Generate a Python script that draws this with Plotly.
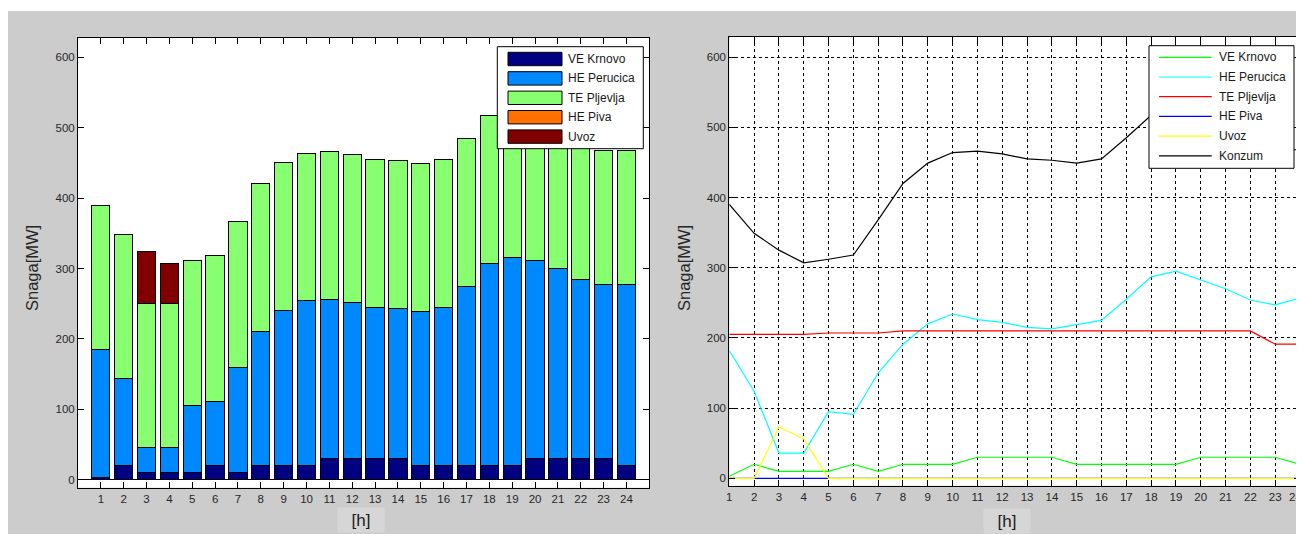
import plotly.graph_objects as go

# ---------------- data ----------------
hours = list(range(1, 25))
ve_krnovo = [3, 20, 10, 10, 10, 20, 10, 20, 20, 20, 30, 30, 30, 30, 20, 20, 20, 20, 20, 30, 30, 30, 30, 20]
he_perucica = [182, 124, 36, 36, 95, 91, 150, 191, 220, 234, 226, 222, 215, 213, 219, 225, 255, 287, 295, 282, 270, 254, 247, 257]
te_pljevlja = [205, 205, 205, 205, 207, 207, 207, 210, 210, 210, 210, 210, 210, 210, 210, 210, 210, 210, 210, 210, 210, 210, 191, 191]
he_piva = [0, 0, 0, 0, 0, 0, 0, 0, 0, 0, 0, 0, 0, 0, 0, 0, 0, 0, 0, 0, 0, 0, 0, 0]
uvoz = [0, 0, 73, 56, 0, 0, 0, 0, 0, 0, 0, 0, 0, 0, 0, 0, 0, 0, 0, 0, 0, 0, 0, 0]
konzum = [390, 349, 325, 307, 312, 318, 368, 420, 449, 464, 466, 462, 455, 453, 449, 455, 485, 517, 525, 522, 510, 494, 468, 468]
y_ticks = [0, 100, 200, 300, 400, 500, 600]

series_names = ["VE Krnovo", "HE Perucica", "TE Pljevlja", "HE Piva", "Uvoz"]
series_values = [ve_krnovo, he_perucica, te_pljevlja, he_piva, uvoz]
bar_colors = ["#000080", "#0088FF", "#88FF70", "#FF7000", "#800000"]
line_colors = ["#00FF00", "#00FFFF", "#FF0000", "#0000FF", "#FFFF00", "#000000"]

# the page puts the figure 8 px from the top-left corner
OFF = 8
W, H = 1304 - OFF, 534 - OFF
def px(x):
    return (x - OFF) / W
def py(y):
    return 1 - (y - OFF) / H

fig = go.Figure()

for name, vals, col in zip(series_names, series_values, bar_colors):
    fig.add_trace(go.Bar(x=hours, y=vals, name=name, marker=dict(color=col, line=dict(color="black", width=1)),
                         xaxis="x", yaxis="y", showlegend=False))

line_names = series_names + ["Konzum"]
line_values = series_values + [konzum]
for name, vals, col in zip(line_names, line_values, line_colors):
    fig.add_trace(go.Scatter(x=hours, y=vals, name=name, mode="lines", line=dict(color=col, width=1.2),
                             xaxis="x2", yaxis="y2", showlegend=False))

tickfont = dict(family="Liberation Sans, Arial, sans-serif", size=11.5, color="#262626")
common_axis = dict(showline=True, linecolor="black", linewidth=1, mirror="ticks", ticks="inside",
                   ticklen=6, tickcolor="black", tickfont=tickfont, automargin=False)

fig.update_layout(
    width=W, height=H,
    margin=dict(l=0, r=0, t=0, b=0),
    paper_bgcolor="#cccccc",
    plot_bgcolor="white",
    barmode="stack", bargap=0.2,
    xaxis=dict(domain=[px(78), px(649.3)], range=[0, 25], tickvals=hours, showgrid=False, zeroline=False, **common_axis),
    yaxis=dict(domain=[py(487.7), py(37.7)], range=[-11.4, 628], tickvals=y_ticks, showgrid=False,
               zeroline=True, zerolinecolor="black", zerolinewidth=1, **common_axis),
    xaxis2=dict(domain=[px(729.3), px(1300)], range=[1, 24], tickvals=hours, anchor="y2",
                showgrid=True, gridcolor="black", gridwidth=1, griddash="3px,3px", zeroline=False, **common_axis),
    yaxis2=dict(domain=[py(485.7), py(36.7)], range=[-10.5, 629], tickvals=y_ticks, anchor="x2",
                showgrid=True, gridcolor="black", gridwidth=1, griddash="3px,3px", zeroline=False, **common_axis),
)

shapes = []
# white strip at the top of the picture
shapes.append(dict(type="rect", xref="paper", yref="paper", x0=-0.01, x1=1.01, y0=py(11), y1=1.01,
                   fillcolor="white", line=dict(width=0), layer="below"))

annotations = []
legfont = dict(family="Liberation Sans, Arial, sans-serif", size=12, color="#1a1a1a")

# left legend (bars)
shapes.append(dict(type="rect", xref="paper", yref="paper", x0=px(497.3), x1=px(643.3), y0=py(148.7), y1=py(46.7),
                   fillcolor="white", line=dict(color="black", width=1), layer="above"))
for i, (name, col) in enumerate(zip(series_names, bar_colors)):
    yc = 59 + 19.4 * i
    shapes.append(dict(type="rect", xref="paper", yref="paper", x0=px(508), x1=px(562), y0=py(yc + 6.7), y1=py(yc - 6.7),
                       fillcolor=col, line=dict(color="black", width=1), layer="above"))
    annotations.append(dict(xref="paper", yref="paper", x=px(566), y=py(yc), text=name, showarrow=False,
                            xanchor="left", yanchor="middle", font=legfont))

# right legend (lines)
shapes.append(dict(type="rect", xref="paper", yref="paper", x0=px(1149), x1=px(1294), y0=py(168.3), y1=py(45.7),
                   fillcolor="white", line=dict(color="black", width=1), layer="above"))
for i, (name, col) in enumerate(zip(line_names, line_colors)):
    yc = 57.3 + 19.7 * i
    shapes.append(dict(type="line", xref="paper", yref="paper", x0=px(1159), x1=px(1211.7), y0=py(yc), y1=py(yc),
                       line=dict(color=col, width=1.2), layer="above"))
    annotations.append(dict(xref="paper", yref="paper", x=px(1217), y=py(yc), text=name, showarrow=False,
                            xanchor="left", yanchor="middle", font=legfont))

# last hour label of the right chart (plotly hides it at the picture edge)
annotations.append(dict(xref="x2", yref="paper", x=hours[-1], y=py(497), text=str(hours[-1]), showarrow=False,
                        xanchor="right", yanchor="middle", xshift=4, font=tickfont))

titlefont = dict(family="Liberation Sans, Arial, sans-serif", size=16.5, color="#262626")
hfont = dict(family="Liberation Sans, Arial, sans-serif", size=17, color="#1a1a1a")
annotations.append(dict(xref="paper", yref="paper", x=px(32), y=py(268), text="Snaga[MW]", textangle=-90,
                        showarrow=False, xanchor="center", yanchor="middle", font=titlefont))
annotations.append(dict(xref="paper", yref="paper", x=px(684), y=py(268), text="Snaga[MW]", textangle=-90,
                        showarrow=False, xanchor="center", yanchor="middle", font=titlefont))
annotations.append(dict(xref="paper", yref="paper", x=px(361), y=py(520), text="[h]", showarrow=False,
                        xanchor="center", yanchor="middle", font=hfont, bgcolor="#d6d6d6", borderpad=2,
                        width=42, height=20))
annotations.append(dict(xref="paper", yref="paper", x=px(1007), y=py(521), text="[h]", showarrow=False,
                        xanchor="center", yanchor="middle", font=hfont, bgcolor="#d6d6d6", borderpad=2,
                        width=42, height=20))

fig.update_layout(shapes=shapes, annotations=annotations)
fig.write_html("out.html")
